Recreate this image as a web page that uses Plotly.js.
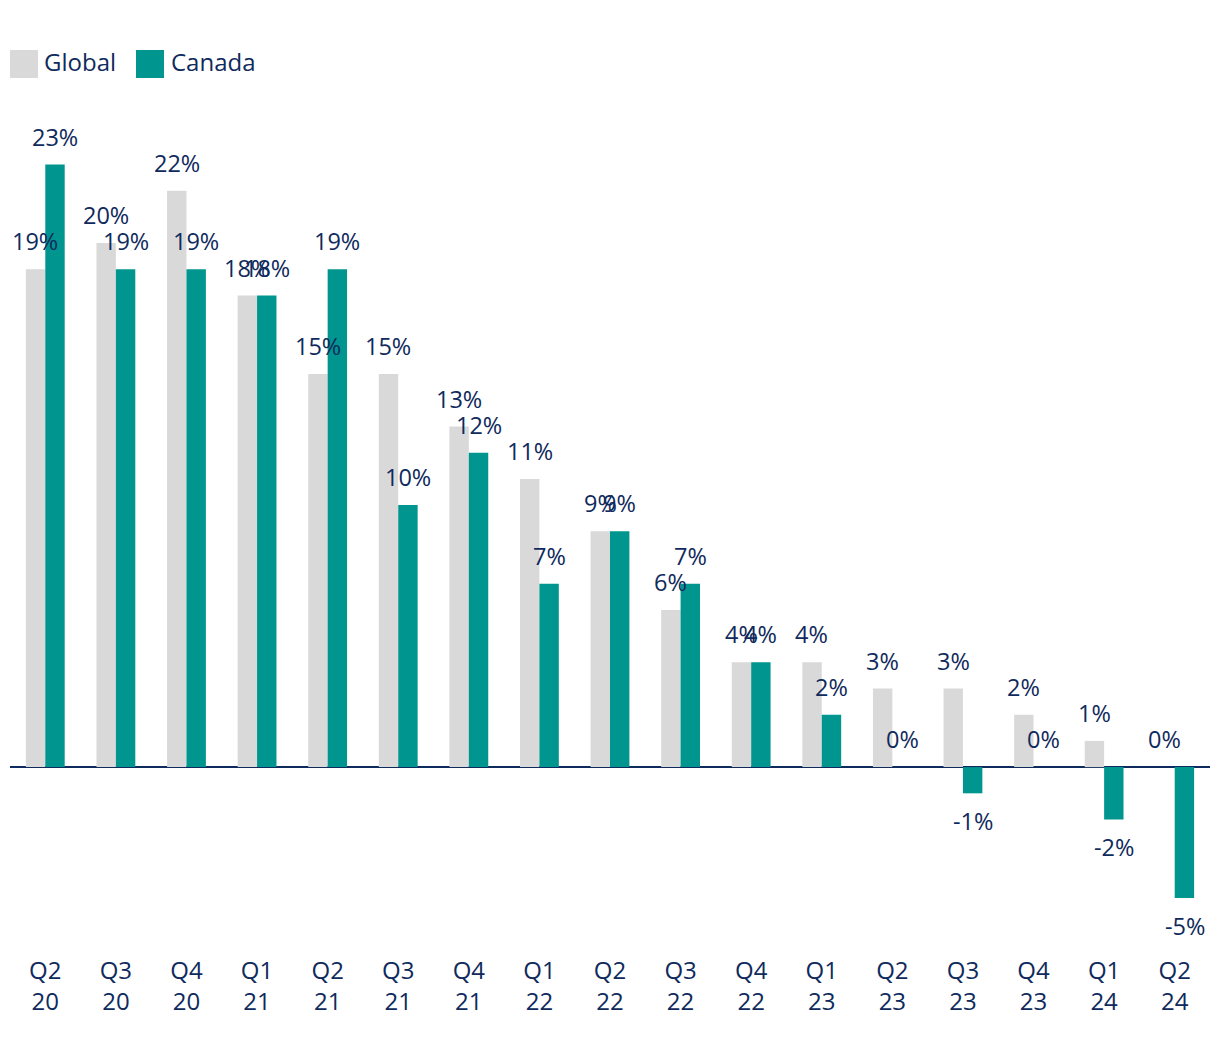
<!DOCTYPE html>
<html>
<head>
<meta charset="utf-8">
<script src="https://cdn.plot.ly/plotly-3.0.1.min.js"></script>
<style>
  html, body { margin: 0; padding: 0; background: #ffffff; }
  #chart { width: 1220px; height: 1040px; }
</style>
</head>
<body>
<div id="chart"></div>
<script>
var quarters = ["Q2 20","Q3 20","Q4 20","Q1 21","Q2 21","Q3 21","Q4 21","Q1 22","Q2 22","Q3 22","Q4 22","Q1 23","Q2 23","Q3 23","Q4 23","Q1 24","Q2 24"];
var tickLabels = ["Q2<br>20","Q3<br>20","Q4<br>20","Q1<br>21","Q2<br>21","Q3<br>21","Q4<br>21","Q1<br>22","Q2<br>22","Q3<br>22","Q4<br>22","Q1<br>23","Q2<br>23","Q3<br>23","Q4<br>23","Q1<br>24","Q2<br>24"];
var globalValues = [19,20,22,18,15,15,13,11,9,6,4,4,3,3,2,1,0];
var canadaValues = [23,19,19,18,19,10,12,7,9,7,4,2,0,-1,0,-2,-5];

var NAVY = '#0f2a5c';
var GRAY = '#d9d9d9';
var TEAL = '#00968f';
var FONT = 'Open Sans, Noto Sans, sans-serif';

var traces = [
  { type: 'bar', name: 'Global', x: quarters, y: globalValues, marker: { color: GRAY }, hoverinfo: 'x+y', showlegend: false },
  { type: 'bar', name: 'Canada', x: quarters, y: canadaValues, marker: { color: TEAL }, hoverinfo: 'x+y', showlegend: false }
];

var annotations = [];
function addLabels(vals, xshift) {
  vals.forEach(function (v, i) {
    annotations.push({
      x: quarters[i], y: v, xref: 'x', yref: 'y',
      text: v + '%', showarrow: false,
      xshift: xshift, yshift: v < 0 ? -27.5 : 28,
      font: { family: FONT, size: 23.5, color: NAVY }
    });
  });
}
addLabels(globalValues, -9.8);
addLabels(canadaValues, 9.8);

// legend
annotations.push({ xref: 'paper', yref: 'paper', x: 0.0267, y: 1.0583, xanchor: 'left', yanchor: 'middle', text: 'Global', showarrow: false, font: { family: FONT, size: 24, color: NAVY } });
annotations.push({ xref: 'paper', yref: 'paper', x: 0.1325, y: 1.0583, xanchor: 'left', yanchor: 'middle', text: 'Canada', showarrow: false, font: { family: FONT, size: 24, color: NAVY } });

var shapes = [
  { type: 'rect', xref: 'paper', yref: 'paper', x0: 0, x1: 0.02333, y0: 1.0381, y1: 1.0714, fillcolor: GRAY, line: { width: 0 } },
  { type: 'rect', xref: 'paper', yref: 'paper', x0: 0.105, x1: 0.12833, y0: 1.0381, y1: 1.0714, fillcolor: TEAL, line: { width: 0 } }
];

var layout = {
  width: 1220, height: 1040,
  margin: { l: 10, r: 10, t: 110, b: 90 },
  paper_bgcolor: '#ffffff', plot_bgcolor: '#ffffff',
  barmode: 'group', bargap: 0.45, bargroupgap: 0,
  showlegend: false,
  font: { family: FONT, size: 24, color: NAVY },
  xaxis: {
    type: 'category', tickvals: quarters, ticktext: tickLabels,
    showgrid: false, showline: false, ticks: '', zeroline: false,
    tickfont: { family: FONT, size: 24, color: NAVY },
    automargin: false, ticklabelstandoff: 4
  },
  yaxis: {
    range: [-6.98, 25.08], showgrid: false, showticklabels: false, ticks: '',
    zeroline: true, zerolinecolor: NAVY, zerolinewidth: 2, showline: false
  },
  annotations: annotations,
  shapes: shapes
};

Plotly.newPlot('chart', traces, layout, { displayModeBar: false, staticPlot: true });
</script>
</body>
</html>
